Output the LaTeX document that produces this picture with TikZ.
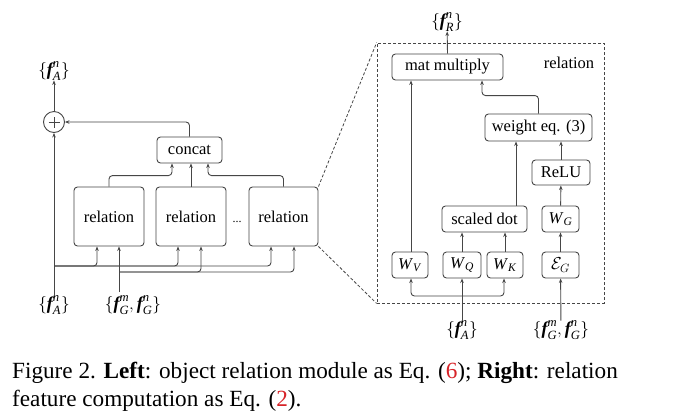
\documentclass[tikz,border=0pt]{standalone}
\usepackage{amsmath}
\usepackage{fontspec}
\setmainfont{Liberation Serif}
\usetikzlibrary{arrows.meta}
\definecolor{ln}{RGB}{70,70,70}
\definecolor{capred}{RGB}{215,35,40}
\newcommand{\fv}{\text{\bfseries\itshape f}}
\newcommand{\lbl}[2]{$\{\fv^{\mathit{#1}}_{\mathit{#2}}\}$}
\newcommand{\tw}[2]{\textit{#1}\textsubscript{\textit{#2}}}
\begin{document}
\begin{tikzpicture}[x=1pt,y=-1pt,
  box/.style={draw=ln,rounded corners=3.5pt,line width=0.9pt,inner sep=0pt,font=\fontsize{16.5}{19}\selectfont},
  arr/.style={draw=ln,line width=0.9pt,-{Stealth[length=4.5pt,width=3.5pt]}},
  rc/.style={rounded corners=3.5pt},
  lab/.style={inner sep=0pt,font=\fontsize{18}{20}\selectfont},
  link/.style={draw=ln,line width=0.8pt,dashed,dash pattern=on 3pt off 2pt}]
\useasboundingbox (0,0) rectangle (676,416);
\fill[white] (0,0) rectangle (676,416);
% ---------- left part ----------
\node[box,minimum width=70,minimum height=59] (rel1) at (109,216.5) {relation};
\node[box,minimum width=70,minimum height=59] (rel2) at (191,216.5) {relation};
\node[box,minimum width=69,minimum height=59] (rel3) at (283.5,216.5) {relation};
\node[inner sep=0pt,font=\fontsize{12}{12}\selectfont] (dots) at (237,222) {...};
\node[box,minimum width=65,minimum height=26] (concat) at (189.5,150) {concat};
\node[draw=ln,line width=0.9pt,circle,minimum size=21,inner sep=0pt] (plus) at (54,122) {};
\draw[ln,line width=0.9pt] ([xshift=-5.5pt]plus.center) -- ([xshift=5.5pt]plus.center)
  ([yshift=-5.5pt]plus.center) -- ([yshift=5.5pt]plus.center);
\node[lab] (fAout) at (54,71) {\lbl{n}{A}};
\node[lab] (fAin) at (54,305) {\lbl{n}{A}};
\node[lab] (fGin) at (133,305) {$\{\fv^{\mathit{m}}_{\mathit{G}},\fv^{\mathit{n}}_{\mathit{G}}\}$};
\coordinate (jA) at (54,266);
\coordinate (jG) at (119,272);
\coordinate (fGs) at (119,292);

\draw[arr] (plus) -- (fAout);
\draw[arr] (fAin) -- (plus);
\draw[arr,rc] (concat.north) |- (plus.east);
\draw[arr,rc] (rel1.north) -- ++(0,-11) -| ([xshift=-17.5pt]concat.south);
\draw[arr] (rel2.north) -- (rel2.north |- concat.south);
\draw[arr,rc] (rel3.north) -- ++(0,-11) -| ([xshift=18.5pt]concat.south);
\draw[arr,rc] (jA) -| ([xshift=-12pt]rel1.south);
\draw[arr,rc] (jA) -| ([xshift=-13pt]rel2.south);
\draw[arr,rc] (jA) -| ([xshift=-12.5pt]rel3.south);
\draw[arr] (fGs) -- ([xshift=10pt]rel1.south);
\draw[arr,rc] (jG) -| ([xshift=10pt]rel2.south);
\draw[arr,rc] (jG) -| ([xshift=10.5pt]rel3.south);
% ---------- right part ----------
\node[link,minimum width=227,minimum height=260,inner sep=0pt] (frame) at (490.5,173) {};
\draw[link] (rel3.north east) -- (frame.north west);
\draw[link] (rel3.south east) -- (frame.south west);
\node[inner sep=0pt,font=\fontsize{16.5}{19}\selectfont] (rellab) at (569,63) {relation};
\node[box,minimum width=111,minimum height=26] (matmul) at (447.5,67) {mat multiply};
\node[lab] (fR) at (447,22) {\lbl{n}{R}};
\node[box,minimum width=107,minimum height=27] (weight) at (538.5,127.5) {weight eq. (3)};
\node[box,minimum width=58,minimum height=25] (relu) at (561,172.5) {ReLU};
\node[box,minimum width=85,minimum height=26] (scaled) at (484.5,219) {scaled dot};
\node[box,minimum width=37,minimum height=26] (WG) at (560.5,219) {\tw{W}{G}};
\node[box,minimum width=36,minimum height=26] (WV) at (410,265) {\tw{W}{V}};
\node[box,minimum width=38,minimum height=26] (WQ) at (462,265) {\tw{W}{Q}};
\node[box,minimum width=36,minimum height=26] (WK) at (505,265) {\tw{W}{K}};
\node[box,minimum width=37,minimum height=26] (EG) at (560.5,265) {$\mathcal{E}_G$};
\node[lab] (fA2) at (462,330) {\lbl{n}{A}};
\node[lab] (fG2) at (561,330) {$\{\fv^{\mathit{m}}_{\mathit{G}},\fv^{\mathit{n}}_{\mathit{G}}\}$};
\coordinate (jA2) at (462,296);

\draw[arr] (fA2) -- (WQ);
\draw[arr,rc] (jA2) -| ([xshift=1pt]WV.south);
\draw[arr,rc] (jA2) -| ([xshift=-1pt]WK.south);
\draw[arr] (WQ.north) -- (WQ.north |- scaled.south);
\draw[arr] (WK.north) -- (WK.north |- scaled.south);
\draw[arr] ([xshift=31.5pt]scaled.north) -- ([xshift=31.5pt]scaled.north |- weight.south);
\draw[arr] (fG2) -- (EG);
\draw[arr] (EG) -- (WG);
\draw[arr] (WG) -- (relu);
\draw[arr] (relu.north) -- (relu.north |- weight.south);
\draw[arr] ([xshift=1pt]WV.north) -- ([xshift=1pt]WV.north |- matmul.south);
\draw[arr,rc] (weight.north) -- ++(0,-18) -| ([xshift=34.5pt]matmul.south);
\draw[arr] (matmul.north) -- (fR);
% ---------- caption ----------
\node[anchor=base west,inner sep=0pt,font=\fontsize{23.2}{27}\selectfont] (cap1) at (12,378)
  {Figure 2. \textbf{Left}: object relation module as Eq. (\textcolor{capred}{6}); \textbf{Right}: relation};
\node[anchor=base west,inner sep=0pt,font=\fontsize{23.2}{27}\selectfont] (cap2) at (12,406)
  {feature computation as Eq. (\textcolor{capred}{2}).};
\end{tikzpicture}
\end{document}
